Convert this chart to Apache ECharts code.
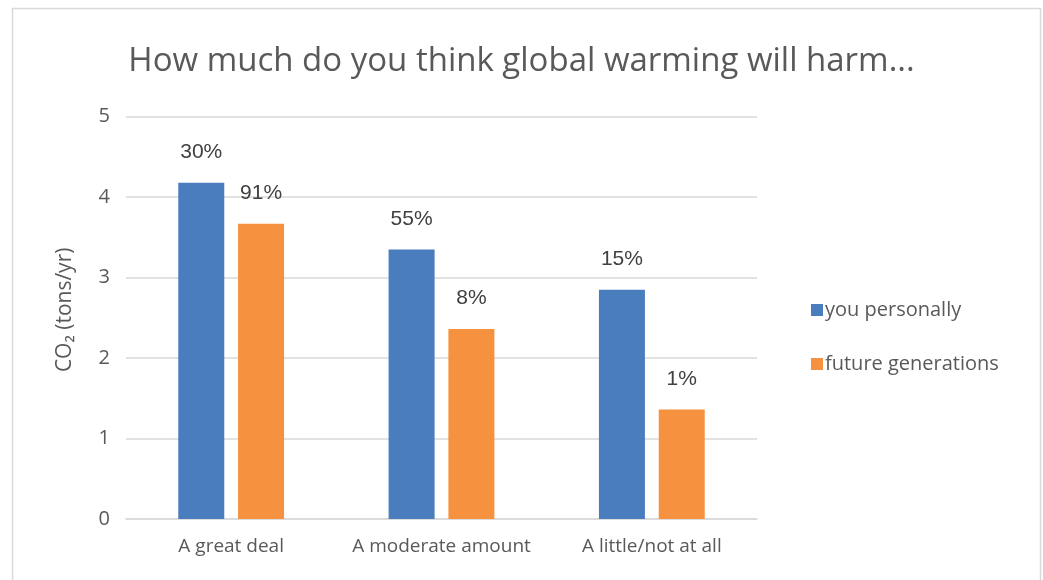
<!DOCTYPE html>
<html>
<head>
<meta charset="utf-8">
<script src="https://cdn.jsdelivr.net/npm/echarts@6/dist/echarts.min.js"></script>
<style>
    html, body { margin: 0; padding: 0; background: #fff; }
    #charts { width: 1043px; height: 580px; }
</style>
</head>
<body>
<div id="charts"></div>
<script>
var categories = ['A great deal', 'A moderate amount', 'A little/not at all'];
var personalData = [4.18, 3.35, 2.85];
var futureData = [3.67, 2.36, 1.36];
var personalLabels = ['30%', '55%', '15%'];
var futureLabels = ['91%', '8%', '1%'];
var yTicks = [0, 1, 2, 3, 4, 5];

var myChart = echarts.init(document.getElementById('charts'));
var option = {
    animation: false,
    backgroundColor: '#fff',
    textStyle: { fontFamily: 'Open Sans' },
    graphic: [{
        type: 'rect',
        shape: { x: 12.5, y: 8.5, width: 1028, height: 600 },
        style: { fill: 'none', stroke: '#d9d9d9', lineWidth: 1.5 }
    }],
    title: {
        text: 'How much do you think global warming will harm...',
        left: 'center',
        top: 40,
        textStyle: {
            fontFamily: 'Open Sans',
            fontWeight: 'normal',
            fontSize: 33,
            color: '#595959'
        }
    },
    legend: {
        orient: 'vertical',
        left: 806,
        top: 295,
        itemWidth: 12,
        itemHeight: 12,
        itemGap: 34,
        icon: 'rect',
        textStyle: { fontSize: 20, color: '#595959', padding: [0, 0, 0, -3] },
        data: ['you personally', 'future generations']
    },
    grid: {
        left: 126,
        right: 286,
        top: 116.7,
        bottom: 61
    },
    xAxis: {
        type: 'category',
        data: categories,
        axisLine: { lineStyle: { color: '#d9d9d9', width: 1.5 } },
        axisTick: { show: false },
        axisLabel: { interval: 0, hideOverlap: false, fontSize: 19, color: '#595959', margin: 18 }
    },
    yAxis: {
        type: 'value',
        min: yTicks[0],
        max: yTicks[yTicks.length - 1],
        interval: 1,
        name: 'CO₂ (tons/yr)',
        nameLocation: 'middle',
        nameGap: 50,
        nameTextStyle: { fontSize: 21, color: '#595959', padding: [0, 0, 0, 16] },
        axisLine: { show: false },
        axisTick: { show: false },
        axisLabel: { fontSize: 20, color: '#595959', margin: 16 },
        splitLine: { lineStyle: { color: '#d9d9d9', width: 1.5 } }
    },
    series: [{
        name: 'you personally',
        type: 'bar',
        barWidth: 46,
        barGap: '30%',
        itemStyle: { color: '#4a7dbd' },
        label: {
            show: true,
            position: 'top',
            distance: 20,
            fontFamily: 'Liberation Sans',
            fontSize: 21,
            color: '#404040',
            formatter: function(p) { return personalLabels[p.dataIndex]; }
        },
        data: personalData
    }, {
        name: 'future generations',
        type: 'bar',
        barWidth: 46,
        itemStyle: { color: '#f5913f' },
        label: {
            show: true,
            position: 'top',
            distance: 20,
            fontFamily: 'Liberation Sans',
            fontSize: 21,
            color: '#404040',
            formatter: function(p) { return futureLabels[p.dataIndex]; }
        },
        data: futureData
    }]
};
myChart.setOption(option);
</script>
</body>
</html>
